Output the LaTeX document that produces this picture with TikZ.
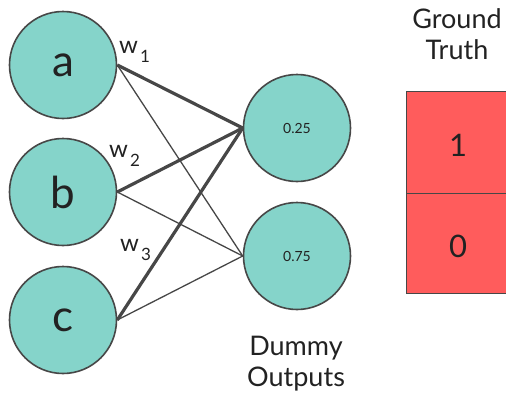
\documentclass[tikz,border=0pt]{standalone}
\usepackage{fontspec}
\setmainfont{Lato}
\definecolor{neuron}{HTML}{85D4CA}
\definecolor{truth}{HTML}{FF5C5C}
\definecolor{edge}{HTML}{474747}
\definecolor{ink}{HTML}{222222}
\newcommand{\wlabel}[1]{w\kern2pt\raisebox{-9pt}{\fontsize{17}{17}\selectfont #1}}
\begin{document}
\begin{tikzpicture}[x=1pt,y=-1pt,
  neuronnode/.style={circle,draw=edge,line width=1.6pt,fill=neuron,minimum size=107pt,inner sep=0pt,text=ink},
  heavy/.style={draw=edge,line width=3.2pt},
  light/.style={draw=edge,line width=1.3pt},
  cell/.style={draw=edge,line width=1pt,fill=truth},
  weightlbl/.style={anchor=base west,inner sep=0pt,text=ink,font=\fontsize{24}{24}\selectfont},
  caption/.style={align=center,font=\fontsize{27}{31}\selectfont,text=ink}]
\useasboundingbox (0,0) rectangle (506,394);
% input layer
\node[neuronnode,font=\fontsize{44}{44}\selectfont] (a) at (63,65) {a};
\node[neuronnode,font=\fontsize{44}{44}\selectfont] (b) at (63,192) {b};
\node[neuronnode,font=\fontsize{44}{44}\selectfont] (c) at (63,320) {c};
% output layer
\node[neuronnode,font=\fontsize{14}{14}\selectfont] (o1) at (297,128) {0.25};
\node[neuronnode,font=\fontsize{14}{14}\selectfont] (o2) at (297,256) {0.75};
% connections
\draw[heavy] (a.east) -- (o1.west);
\draw[heavy] (b.east) -- (o1.west);
\draw[heavy] (c.east) -- (o1.west);
\draw[light] (a.east) -- (o2.west);
\draw[light] (b.east) -- (o2.west);
\draw[light] (c.east) -- (o2.west);
% weight labels
\node[weightlbl] (w1) at (119,53) {\wlabel{1}};
\node[weightlbl] (w2) at (109,157) {\wlabel{2}};
\node[weightlbl] (w3) at (120,251) {\wlabel{3}};
% ground truth table
\path[cell] (406,91) rectangle (512,193);
\path[cell] (406,193) rectangle (512,293);
\node[font=\fontsize{31}{31}\selectfont,text=ink] (t1) at (458,145) {1};
\node[font=\fontsize{31}{31}\selectfont,text=ink] (t0) at (458,246) {0};
% captions
\node[caption] (gt) at (457,34) {Ground\\Truth};
\node[caption] (dout) at (296,364) {Dummy\\Outputs};
\end{tikzpicture}
\end{document}
